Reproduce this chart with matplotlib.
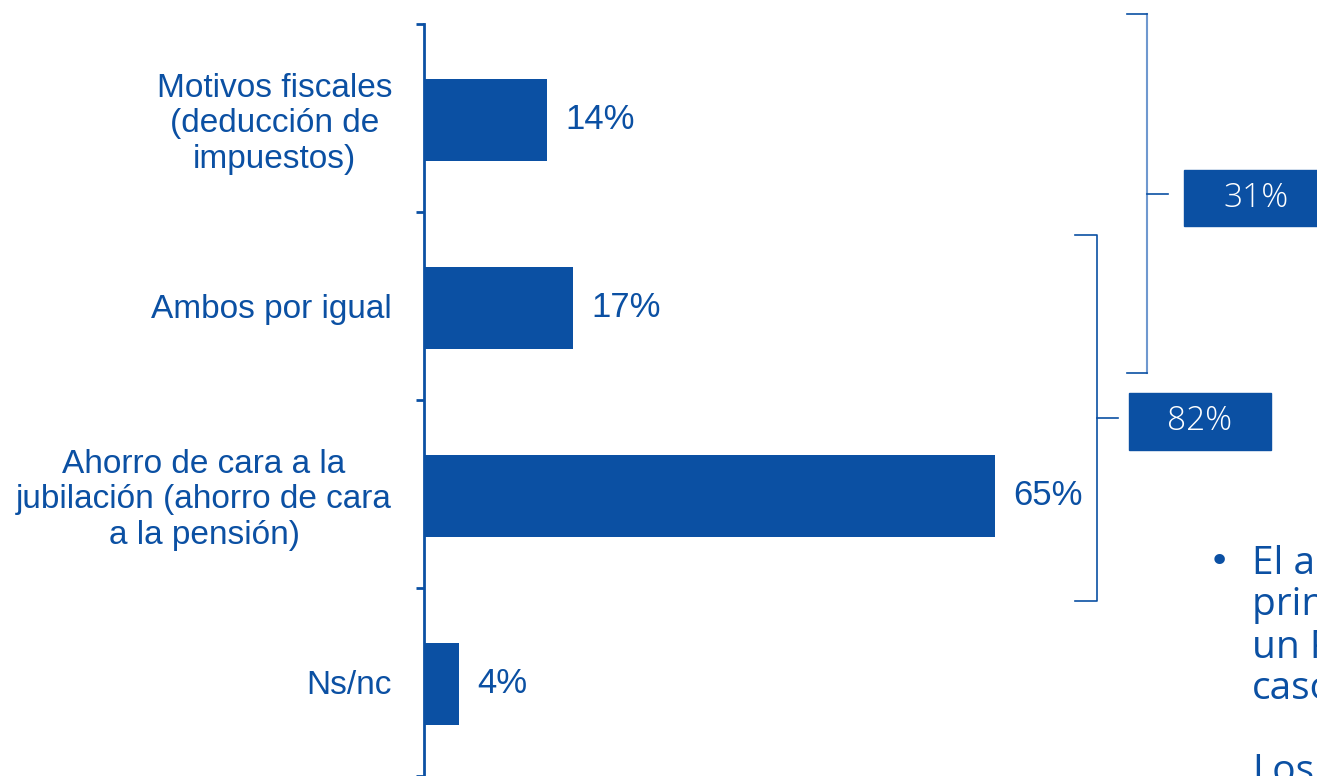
import matplotlib
matplotlib.use("Agg")
import matplotlib.pyplot as plt
from matplotlib.lines import Line2D
from matplotlib.patches import Rectangle

# datos
categorias = ["Motivos fiscales\n(deducción de\nimpuestos)",
              "Ambos por igual",
              "Ahorro de cara a la\njubilación (ahorro de cara\na la pensión)",
              "Ns/nc"]
valores = [14, 17, 65, 4]
grupos = ["31%", "82%"]
texto_bullet = ["El ahorro de cara a la jubilación es el",
                "principal motivo para contratar",
                "un PPI en la mayoría de los",
                "casos.",
                "",
                "Los"]

AZUL = "#0b50a3"
W, H = 1317, 776

fig = plt.figure(figsize=(W / 100, H / 100), dpi=100)
ax = fig.add_axes([424 / W, 0, (W - 424) / W, 752 / H])

pos = list(range(len(valores)))
ax.barh([p + 0.01 for p in pos], valores, height=0.44, color=AZUL)
ax.set_ylim(3.5, -0.5)
ax.set_xlim(0, (W - 424) / 8.78)

for p, v in zip(pos, valores):
    ax.annotate(f"{v}%", (v, p + 0.01), xytext=(13, 0), textcoords="offset points",
                va="center", ha="left", fontsize=25, color=AZUL,
                family="Liberation Sans")

ax.set_yticks(pos)
ax.set_yticklabels(categorias, fontsize=24, color=AZUL, family="Liberation Sans",
                   multialignment="center")
ax.tick_params(axis="y", which="major", length=0, pad=23)
ax.set_yticks([p - 0.5 for p in pos] + [len(pos) - 0.5], minor=True)
ax.tick_params(axis="y", which="minor", length=6, width=2, color=AZUL, direction="out")
ax.set_xticks([])
for s in ["top", "right", "bottom"]:
    ax.spines[s].set_visible(False)
ax.spines["left"].set_color(AZUL)
ax.spines["left"].set_linewidth(2)


def fx(x):
    return x / W


def fy(y):
    return 1 - y / H


def linea(xs, ys, color=AZUL, lw=1.2):
    fig.add_artist(Line2D([fx(x) for x in xs], [fy(y) for y in ys],
                          transform=fig.transFigure, color=color, lw=lw))


# corchete 31%
linea([1147, 1147], [14, 373], color="#6f98cf", lw=1.5)
linea([1127, 1147], [14, 14])
linea([1127, 1147], [373, 373])
linea([1147, 1168], [194, 194])
fig.add_artist(Rectangle((fx(1184), fy(226)), fx(W - 1184), (226 - 170) / H,
                         transform=fig.transFigure, color=AZUL))
fig.text(fx(1256), fy(198), grupos[0], color="white", fontsize=24,
         family="Open Sans", fontweight="light", ha="center", va="center")

# corchete 82%
linea([1075, 1097, 1097, 1075], [235, 235, 601, 601])
linea([1097, 1118], [418, 418])
fig.add_artist(Rectangle((fx(1129), fy(450)), (1271 - 1129) / W, (450 - 393) / H,
                         transform=fig.transFigure, color=AZUL))
fig.text(fx(1200), fy(421), grupos[1], color="white", fontsize=24,
         family="Open Sans", fontweight="light", ha="center", va="center")

# texto lateral
fig.text(fx(1209), fy(562), "•", color=AZUL, fontsize=26, family="DejaVu Sans",
         ha="left", va="center")
fig.text(fx(1252), fy(544), "\n".join(texto_bullet), color=AZUL, fontsize=28,
         family="Open Sans", ha="left", va="top", linespacing=1.12)

fig.savefig("out.png", dpi=100)
